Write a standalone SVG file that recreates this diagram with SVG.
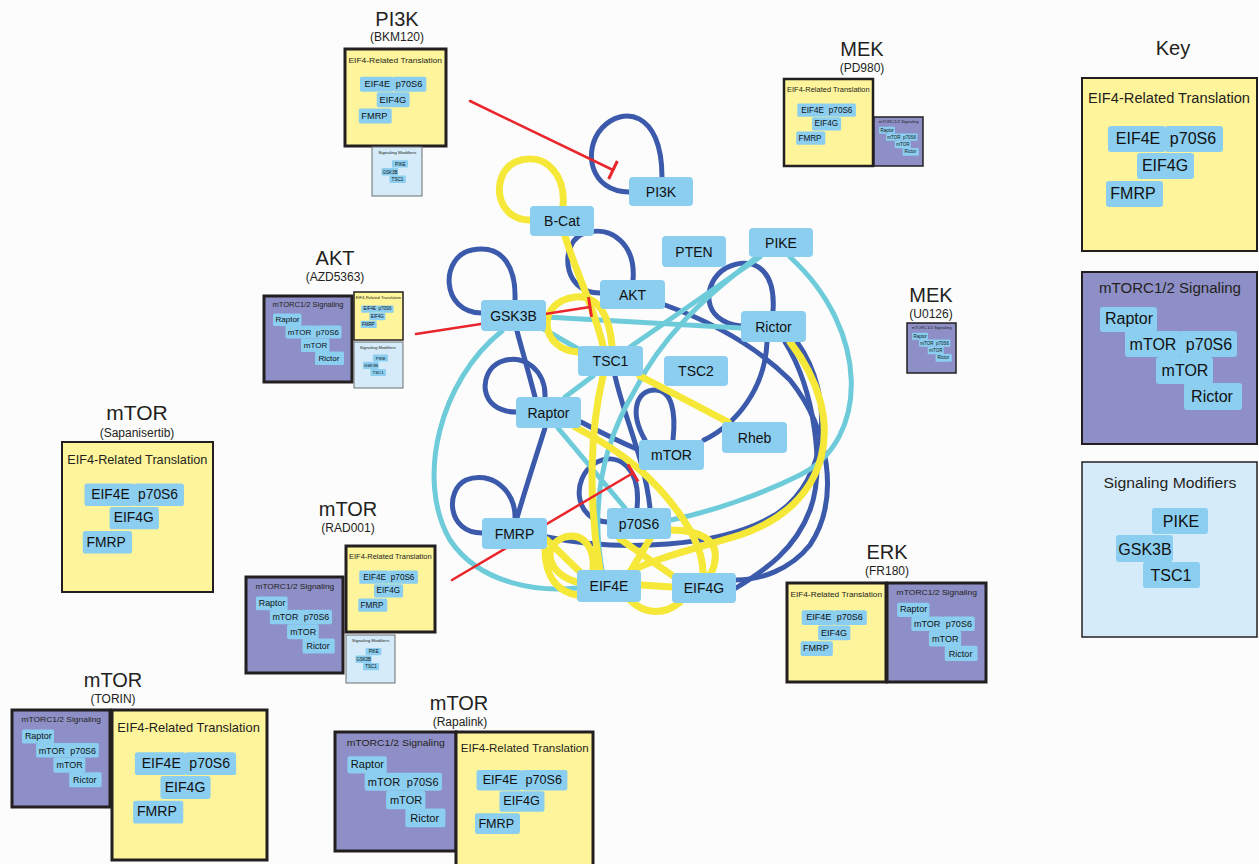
<svg xmlns="http://www.w3.org/2000/svg" width="1259" height="864" viewBox="0 0 1259 864">
<style>
  .bg{fill:#fcfcfc}
  .pY{fill:#fef49b;stroke:#231f20}
  .pP{fill:#8e8fc6;stroke:#231f20}
  .pL{fill:#d5ebf9;stroke:#231f20}
  .pLs{fill:#d5ebf9;stroke:#6d6e71;stroke-width:1}
  .nb{fill:#8bcef0}
  .nt{font-family:"Liberation Sans",Arial,sans-serif;font-size:16px;fill:#111;text-anchor:middle}
  .ttl{font-family:"Liberation Sans",Arial,sans-serif;font-size:14px;fill:#231f20;text-anchor:middle}
  .lab{font-family:"Liberation Sans",Arial,sans-serif;font-size:20px;fill:#231f20;text-anchor:middle}
  .sub{font-family:"Liberation Sans",Arial,sans-serif;font-size:12px;fill:#231f20;text-anchor:middle}
  .gn rect{fill:#8bcef0}
  .gn text{font-family:"Liberation Sans",Arial,sans-serif;font-size:14px;fill:#111;text-anchor:middle}
  .e{fill:none;stroke-linecap:round}
  .eb{stroke:#3c5aab;stroke-width:5}
  .ec{stroke:#6ecbd9;stroke-width:5}
  .ey{stroke:#f6e838;stroke-width:7}
  .er{stroke:#e8262c;stroke-width:2.5;marker-end:url(#tee)}
</style>
<defs>
  <marker id="tee" markerUnits="userSpaceOnUse" markerWidth="4" markerHeight="24" viewBox="-2 -12 4 24" refX="0" refY="0" orient="auto">
    <path d="M0,-10 L0,10" stroke="#e8262c" stroke-width="3"/>
  </marker>
  <!-- panel contents laid out at key scale; placed with translate + scale -->
  <g id="eif4Set">
    <text class="ttl" x="87" y="25" textLength="162" lengthAdjust="spacingAndGlyphs">EIF4-Related Translation</text>
    <rect class="nb" x="26" y="48" width="58" height="26" rx="3"/>
    <rect class="nb" x="83" y="48" width="58" height="26" rx="3"/>
    <rect class="nb" x="55" y="75" width="57" height="26" rx="3"/>
    <rect class="nb" x="24" y="103" width="57" height="26" rx="3"/>
    <text class="nt" x="56" y="66">EIF4E</text>
    <text class="nt" x="111" y="66">p70S6</text>
    <text class="nt" x="83" y="93">EIF4G</text>
    <text class="nt" x="51" y="121">FMRP</text>
  </g>
  <g id="mtorcSet">
    <text class="ttl" x="88" y="21" textLength="142" lengthAdjust="spacingAndGlyphs">mTORC1/2 Signaling</text>
    <rect class="nb" x="18" y="35" width="57" height="25" rx="3"/>
    <rect class="nb" x="43" y="59" width="57" height="26" rx="3"/>
    <rect class="nb" x="98" y="59" width="57" height="26" rx="3"/>
    <rect class="nb" x="74" y="85" width="57" height="27" rx="3"/>
    <rect class="nb" x="102" y="111" width="58" height="27" rx="3"/>
    <text class="nt" x="47" y="52">Raptor</text>
    <text class="nt" x="71" y="78">mTOR</text>
    <text class="nt" x="127" y="78">p70S6</text>
    <text class="nt" x="103" y="104">mTOR</text>
    <text class="nt" x="130" y="130">Rictor</text>
  </g>
  <g id="modSet">
    <text class="ttl" x="88" y="26" textLength="133" lengthAdjust="spacingAndGlyphs">Signaling Modifiers</text>
    <rect class="nb" x="70" y="46" width="56" height="26" rx="3"/>
    <rect class="nb" x="34" y="73" width="57" height="27" rx="3"/>
    <rect class="nb" x="61" y="100" width="57" height="26" rx="3"/>
    <text class="nt" x="99" y="65">PIKE</text>
    <text class="nt" x="63" y="93">GSK3B</text>
    <text class="nt" x="89" y="119">TSC1</text>
  </g>
</defs>

<rect class="bg" x="0" y="0" width="1259" height="864"/>

<!-- key -->
<g id="key">
  <text class="lab" x="1173" y="55">Key</text>
  <rect class="pY" x="1082" y="78" width="175" height="173" stroke-width="2"/>
  <use href="#eif4Set" transform="translate(1082,78)"/>
  <rect class="pP" x="1082" y="272" width="175" height="172" stroke-width="2"/>
  <use href="#mtorcSet" transform="translate(1082,272)"/>
  <rect class="pL" x="1082" y="462" width="175" height="175" stroke-width="1.5"/>
  <use href="#modSet" transform="translate(1082,462)"/>
</g>

<!-- inhibitor panels -->
<g id="drug-pi3k-bkm120">
  <text class="lab" x="397" y="26">PI3K</text>
  <text class="sub" x="397" y="41">(BKM120)</text>
  <rect class="pY" x="345" y="49" width="101" height="97" stroke-width="3"/>
  <use href="#eif4Set" transform="translate(345,49) scale(0.577)"/>
  <rect class="pLs" x="372" y="147" width="50" height="49"/>
  <use href="#modSet" transform="translate(372,147) scale(0.286)"/>
</g>

<g id="drug-mek-pd980">
  <text class="lab" x="862" y="56">MEK</text>
  <text class="sub" x="862" y="72">(PD980)</text>
  <rect class="pY" x="784" y="79" width="89" height="87" stroke-width="2.5"/>
  <use href="#eif4Set" transform="translate(784,79) scale(0.51)"/>
  <rect class="pP" x="874" y="117" width="49" height="49" stroke-width="1.5"/>
  <use href="#mtorcSet" transform="translate(874,117) scale(0.28)"/>
</g>

<g id="drug-akt-azd5363">
  <text class="lab" x="335" y="265">AKT</text>
  <text class="sub" x="335" y="281">(AZD5363)</text>
  <rect class="pP" x="264" y="296" width="88" height="86" stroke-width="3"/>
  <use href="#mtorcSet" transform="translate(264,296) scale(0.5)"/>
  <rect class="pY" x="354" y="292" width="49" height="48" stroke-width="1.5"/>
  <use href="#eif4Set" transform="translate(354,292) scale(0.28)"/>
  <rect class="pLs" x="354" y="342" width="49" height="46"/>
  <use href="#modSet" transform="translate(354,342) scale(0.27)"/>
</g>

<g id="drug-mek-u0126">
  <text class="lab" x="931" y="302">MEK</text>
  <text class="sub" x="931" y="318">(U0126)</text>
  <rect class="pP" x="907" y="323" width="49" height="50" stroke-width="1.5"/>
  <use href="#mtorcSet" transform="translate(907,323) scale(0.28)"/>
</g>

<g id="drug-mtor-sapanisertib">
  <text class="lab" x="137" y="420" style="font-size:21px">mTOR</text>
  <text class="sub" x="137" y="437">(Sapanisertib)</text>
  <rect class="pY" x="62" y="442" width="151" height="150" stroke-width="2"/>
  <use href="#eif4Set" transform="translate(62,442) scale(0.865)"/>
</g>

<g id="drug-mtor-rad001">
  <text class="lab" x="348" y="516">mTOR</text>
  <text class="sub" x="348" y="532">(RAD001)</text>
  <rect class="pP" x="246" y="577" width="97" height="96" stroke-width="3"/>
  <use href="#mtorcSet" transform="translate(246,577) scale(0.555)"/>
  <rect class="pY" x="346" y="546" width="89" height="86" stroke-width="3"/>
  <use href="#eif4Set" transform="translate(346,546) scale(0.51)"/>
  <rect class="pLs" x="346" y="635" width="49" height="48"/>
  <use href="#modSet" transform="translate(346,635) scale(0.28)"/>
</g>

<g id="drug-erk-fr180">
  <text class="lab" x="887" y="559">ERK</text>
  <text class="sub" x="887" y="575">(FR180)</text>
  <rect class="pY" x="787" y="583" width="99" height="99" stroke-width="3"/>
  <use href="#eif4Set" transform="translate(787,583) scale(0.566)"/>
  <rect class="pP" x="887" y="583" width="99" height="99" stroke-width="3"/>
  <use href="#mtorcSet" transform="translate(887,583) scale(0.566)"/>
</g>

<g id="drug-mtor-torin">
  <text class="lab" x="113" y="687">mTOR</text>
  <text class="sub" x="113" y="703">(TORIN)</text>
  <rect class="pP" x="12" y="710" width="98" height="97" stroke-width="3"/>
  <use href="#mtorcSet" transform="translate(12,710) scale(0.56)"/>
  <rect class="pY" x="112" y="710" width="155" height="150" stroke-width="3"/>
  <use href="#eif4Set" transform="translate(112,710) scale(0.88)"/>
</g>

<g id="drug-mtor-rapalink">
  <text class="lab" x="459" y="710">mTOR</text>
  <text class="sub" x="460" y="726">(Rapalink)</text>
  <rect class="pP" x="335" y="732" width="121" height="119" stroke-width="3"/>
  <use href="#mtorcSet" transform="translate(335,732) scale(0.69)"/>
  <rect class="pY" x="456" y="732" width="137" height="140" stroke-width="3"/>
  <use href="#eif4Set" transform="translate(456,732) scale(0.79)"/>
</g>

<!-- interaction network: connectors -->
<g id="connectors">
  <!-- dark blue -->
  <path class="e eb" d="M629,192 C590,192 582,150 602,128 C622,106 662,110 662,177"/>
  <path class="e eb" d="M600,293 C560,293 560,240 585,233 C612,225 636,245 633,280"/>
  <path class="e eb" d="M482,313 C440,313 440,256 472,250 C505,244 516,270 515,300"/>
  <path class="e eb" d="M741,326 C700,322 702,282 726,268 C752,255 776,268 773,311"/>
  <path class="e eb" d="M516,412 C478,412 478,372 500,362 C525,352 546,372 545,397"/>
  <path class="e eb" d="M645,440 C628,410 638,390 655,390 C672,390 676,412 673,440"/>
  <path class="e eb" d="M482,533 C447,533 445,490 466,480 C490,470 516,490 515,518"/>
  <path class="e eb" d="M607,522 C575,520 570,480 595,463 C620,450 641,470 637,508"/>
  <path class="e eb" d="M517,331 C522,350 528,370 535,397"/>
  <path class="e eb" d="M545,428 C535,460 525,490 517,518"/>
  <path class="e eb" d="M581,422 C600,432 620,442 639,450"/>
  <path class="e eb" d="M767,342 C765,390 735,425 704,440"/>
  <path class="e eb" d="M665,305 C720,325 760,350 790,380 C830,430 840,500 810,545 C790,570 760,580 736,580"/>
  <path class="e eb" d="M785,342 C815,390 825,470 810,510 C795,550 765,570 736,588"/>
  <path class="e eb" d="M547,537 C620,552 720,548 775,515 C830,480 835,395 797,342"/>
  <path class="e eb" d="M615,376 C625,420 645,460 650,508"/>
  <!-- cyan -->
  <path class="e ec" d="M546,317 L741,328"/>
  <path class="e ec" d="M542,328 L580,350"/>
  <path class="e ec" d="M760,257 L630,347"/>
  <path class="e ec" d="M757,257 C700,300 660,340 635,390 C605,440 590,500 602,570"/>
  <path class="e ec" d="M790,257 C870,330 870,440 800,475 C760,495 710,512 671,520"/>
  <path class="e ec" d="M558,428 L625,508"/>
  <path class="e ec" d="M593,376 L565,397"/>
  <path class="e ec" d="M502,331 C440,380 415,480 450,540 C480,585 540,592 577,588"/>
  <!-- yellow -->
  <path class="e ey" d="M530,220 C495,220 490,175 515,162 C545,150 566,175 563,206"/>
  <path class="e ey" d="M565,236 C575,270 595,310 603,346"/>
  <path class="e ey" d="M578,352 C540,350 535,302 575,297 C600,294 610,320 612,346"/>
  <path class="e ey" d="M640,376 L728,422"/>
  <path class="e ey" d="M603,376 C590,430 588,500 600,570"/>
  <path class="e ey" d="M575,427 C620,450 660,480 690,530 C700,550 703,560 703,573"/>
  <path class="e ey" d="M790,342 C850,420 830,505 740,535 C690,550 650,560 630,572"/>
  <path class="e ey" d="M547,540 L580,572"/>
  <path class="e ey" d="M577,582 C548,575 540,545 565,537 C585,532 595,550 593,570"/>
  <path class="e ey" d="M620,539 L676,578"/>
  <path class="e ey" d="M650,539 L630,572"/>
  <path class="e ey" d="M641,585 L672,587"/>
  <path class="e ey" d="M630,600 C645,615 665,615 680,602"/>
  <path class="e ey" d="M671,530 C700,530 718,540 715,560 C714,568 712,572 710,574"/>
  <path class="e ey" d="M545,549 C545,580 560,592 577,595"/>
  <!-- inhibition -->
  <path class="e er" d="M470,101 L613,170"/>
  <path class="e er" d="M416,334 L590,307"/>
  <path class="e er" d="M452,580 L633,473"/>
</g>

<!-- interaction network: nodes -->
<g id="n-PI3K" class="gn"><rect x="629" y="177" width="64" height="29" rx="4"/><text x="661" y="197">PI3K</text></g>
<g id="n-BCat" class="gn"><rect x="530" y="206" width="64" height="30" rx="4"/><text x="562" y="226">B-Cat</text></g>
<g id="n-PTEN" class="gn"><rect x="662" y="236" width="64" height="31" rx="4"/><text x="694" y="257">PTEN</text></g>
<g id="n-PIKE" class="gn"><rect x="749" y="228" width="64" height="29" rx="4"/><text x="781" y="248">PIKE</text></g>
<g id="n-AKT" class="gn"><rect x="600" y="280" width="65" height="29" rx="4"/><text x="632.5" y="300">AKT</text></g>
<g id="n-GSK3B" class="gn"><rect x="481" y="300" width="65" height="31" rx="4"/><text x="513.5" y="321">GSK3B</text></g>
<g id="n-Rictor" class="gn"><rect x="741" y="311" width="65" height="31" rx="4"/><text x="773.5" y="332">Rictor</text></g>
<g id="n-TSC1" class="gn"><rect x="578" y="346" width="65" height="30" rx="4"/><text x="610.5" y="366">TSC1</text></g>
<g id="n-TSC2" class="gn"><rect x="664" y="356" width="64" height="30" rx="4"/><text x="696" y="376">TSC2</text></g>
<g id="n-Raptor" class="gn"><rect x="516" y="397" width="65" height="31" rx="4"/><text x="548.5" y="418">Raptor</text></g>
<g id="n-Rheb" class="gn"><rect x="722" y="422" width="65" height="31" rx="4"/><text x="754.5" y="443">Rheb</text></g>
<g id="n-mTOR" class="gn"><rect x="639" y="440" width="65" height="30" rx="4"/><text x="671.5" y="460">mTOR</text></g>
<g id="n-p70S6" class="gn"><rect x="607" y="508" width="64" height="31" rx="4"/><text x="639" y="529">p70S6</text></g>
<g id="n-FMRP" class="gn"><rect x="482" y="518" width="65" height="31" rx="4"/><text x="514.5" y="539">FMRP</text></g>
<g id="n-EIF4E" class="gn"><rect x="577" y="570" width="64" height="32" rx="4"/><text x="609" y="591">EIF4E</text></g>
<g id="n-EIF4G" class="gn"><rect x="672" y="573" width="64" height="30" rx="4"/><text x="704" y="593">EIF4G</text></g>
</svg>
